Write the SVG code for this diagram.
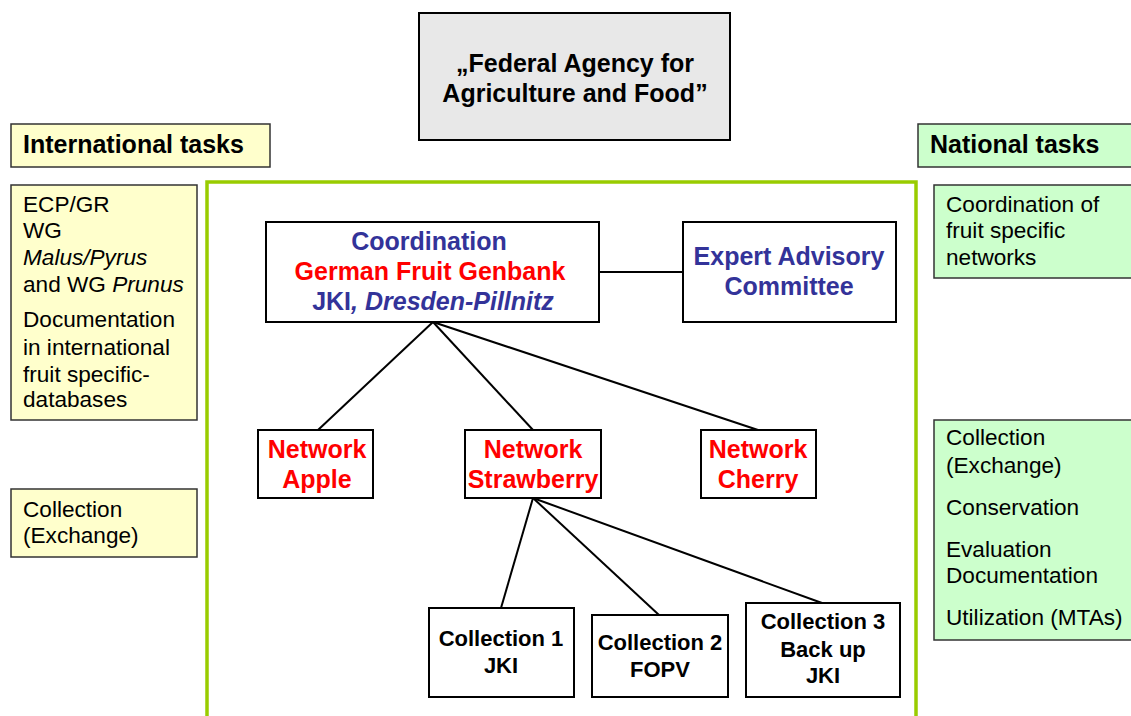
<svg xmlns="http://www.w3.org/2000/svg" width="1131" height="716" viewBox="0 0 1131 716">
  <style>
    text { font-family: "Liberation Sans", Arial, sans-serif; }
    .hdr { font-size: 25px; font-weight: bold; fill: #000; }
    .task { font-size: 22.6px; fill: #000; }
    .node { fill: #fff; stroke: #000; stroke-width: 2; }
    .blue { fill: #333399; font-size: 25px; font-weight: bold; }
    .red { fill: #ff0000; font-size: 25px; font-weight: bold; }
    .col { fill: #000; font-size: 22px; font-weight: bold; }
    .yel { fill: #ffffcc; stroke: #333; stroke-width: 1.5; }
    .grn { fill: #ccffcc; stroke: #333; stroke-width: 1.5; }
    .link { stroke: #000; stroke-width: 2; fill: none; }
  </style>
  <rect width="1131" height="716" fill="#fff"/>

  <!-- agency header -->
  <g id="agency">
    <rect x="419" y="13" width="311" height="127" fill="#e8e8e8" stroke="#000" stroke-width="2"/>
    <text class="hdr" x="575" y="72" text-anchor="middle">„Federal Agency for</text>
    <text class="hdr" x="575" y="102" text-anchor="middle">Agriculture and Food”</text>
  </g>

  <!-- international side -->
  <g id="intl-title">
    <rect class="yel" x="11" y="124" width="259" height="43"/>
    <text class="hdr" x="23" y="153">International tasks</text>
  </g>
  <g id="intl-ecpgr">
    <rect class="yel" x="11" y="185" width="186" height="235"/>
    <text class="task" x="23" y="212">ECP/GR</text>
    <text class="task" x="23" y="238">WG</text>
    <text class="task" x="23" y="265" font-style="italic">Malus/Pyrus</text>
    <text class="task" x="23" y="292">and WG <tspan font-style="italic">Prunus</tspan></text>
    <text class="task" x="23" y="327">Documentation</text>
    <text class="task" x="23" y="355">in international</text>
    <text class="task" x="23" y="382">fruit specific-</text>
    <text class="task" x="23" y="407">databases</text>
  </g>
  <g id="intl-collection">
    <rect class="yel" x="11" y="489" width="186" height="68"/>
    <text class="task" x="23" y="517">Collection</text>
    <text class="task" x="23" y="543">(Exchange)</text>
  </g>

  <!-- national side -->
  <g id="nat-title">
    <rect class="grn" x="918" y="124" width="216" height="43"/>
    <text class="hdr" x="930" y="153">National tasks</text>
  </g>
  <g id="nat-coordination">
    <rect class="grn" x="934" y="185" width="200" height="93"/>
    <text class="task" x="946" y="212">Coordination of</text>
    <text class="task" x="946" y="238">fruit specific</text>
    <text class="task" x="946" y="265">networks</text>
  </g>
  <g id="nat-activities">
    <rect class="grn" x="934" y="420" width="200" height="220"/>
    <text class="task" x="946" y="445">Collection</text>
    <text class="task" x="946" y="473">(Exchange)</text>
    <text class="task" x="946" y="515">Conservation</text>
    <text class="task" x="946" y="557">Evaluation</text>
    <text class="task" x="946" y="583">Documentation</text>
    <text class="task" x="946" y="625">Utilization (MTAs)</text>
  </g>

  <!-- genbank frame -->
  <path d="M207,720 V182 H916 V720" fill="none" stroke="#99cc00" stroke-width="3.5"/>

  <!-- connectors -->
  <g id="connectors">
    <line class="link" x1="599" y1="272" x2="683" y2="272"/>
    <line class="link" x1="433" y1="322" x2="318" y2="430"/>
    <line class="link" x1="433" y1="322" x2="533" y2="430"/>
    <line class="link" x1="433" y1="322" x2="758" y2="430"/>
    <line class="link" x1="533" y1="498" x2="501" y2="608"/>
    <line class="link" x1="533" y1="498" x2="659" y2="615"/>
    <line class="link" x1="533" y1="498" x2="822" y2="603"/>
  </g>

  <g id="coordination">
    <rect class="node" x="266" y="222" width="333" height="100"/>
    <text class="blue" x="429" y="250" text-anchor="middle">Coordination</text>
    <text class="red" x="430" y="280" text-anchor="middle">German Fruit Genbank</text>
    <text class="blue" x="433" y="310" text-anchor="middle">JKI<tspan font-style="italic">, Dresden-Pillnitz</tspan></text>
  </g>
  <g id="advisory">
    <rect class="node" x="683" y="222" width="213" height="100"/>
    <text class="blue" x="789" y="265" text-anchor="middle">Expert Advisory</text>
    <text class="blue" x="789" y="295" text-anchor="middle">Committee</text>
  </g>

  <g id="net-apple">
    <rect class="node" x="258" y="430" width="115" height="68"/>
    <text class="red" x="317" y="458" text-anchor="middle">Network</text>
    <text class="red" x="317" y="488" text-anchor="middle">Apple</text>
  </g>
  <g id="net-strawberry">
    <rect class="node" x="465" y="430" width="136" height="68"/>
    <text class="red" x="533" y="458" text-anchor="middle">Network</text>
    <text class="red" x="533" y="488" text-anchor="middle">Strawberry</text>
  </g>
  <g id="net-cherry">
    <rect class="node" x="701" y="430" width="115" height="68"/>
    <text class="red" x="758" y="458" text-anchor="middle">Network</text>
    <text class="red" x="758" y="488" text-anchor="middle">Cherry</text>
  </g>

  <g id="collection-1">
    <rect class="node" x="429" y="608" width="145" height="89"/>
    <text class="col" x="501" y="646" text-anchor="middle">Collection 1</text>
    <text class="col" x="501" y="673" text-anchor="middle">JKI</text>
  </g>
  <g id="collection-2">
    <rect class="node" x="592" y="615" width="136" height="82"/>
    <text class="col" x="660" y="650" text-anchor="middle">Collection 2</text>
    <text class="col" x="660" y="677" text-anchor="middle">FOPV</text>
  </g>
  <g id="collection-3">
    <rect class="node" x="746" y="603" width="154" height="94"/>
    <text class="col" x="823" y="629" text-anchor="middle">Collection 3</text>
    <text class="col" x="823" y="657" text-anchor="middle">Back up</text>
    <text class="col" x="823" y="683" text-anchor="middle">JKI</text>
  </g>
</svg>
